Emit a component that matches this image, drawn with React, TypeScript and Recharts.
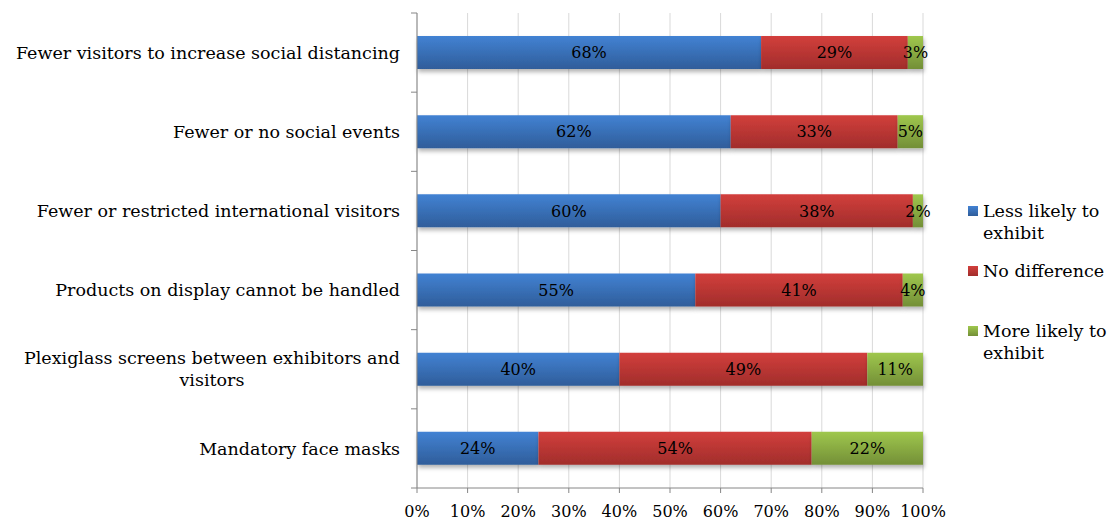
import React from 'react';
import {
  BarChart,
  Bar,
  XAxis,
  YAxis,
  CartesianGrid,
  LabelList,
  Legend,
  Rectangle,
} from 'recharts';

// Survey: how each safety measure changes the likelihood of exhibiting
const categories = [
  'Fewer visitors to increase social distancing',
  'Fewer or no social events',
  'Fewer or restricted international visitors',
  'Products on display cannot be handled',
  'Plexiglass screens between exhibitors and visitors',
  'Mandatory face masks',
];
const lessLikely = [68, 62, 60, 55, 40, 24];
const noDifference = [29, 33, 38, 41, 49, 54];
const moreLikely = [3, 5, 2, 4, 11, 22];
const seriesNames = ['Less likely to exhibit', 'No difference', 'More likely to exhibit'];
const percentTicks = [0, 10, 20, 30, 40, 50, 60, 70, 80, 90, 100];

const FONT = 'DejaVu Serif';
const TEXT_SIZE = 17.5; // category names and legend
const NUM_SIZE = 16; // percentages
const AXIS_COLOR = '#868686';
const TICK_SIZE = 6;
const TICK_MARGIN = 11;

const series = [
  { key: 'less', name: seriesNames[0], top: '#4282d3', bottom: '#2f5d9a', grad: 'gBlue' },
  { key: 'same', name: seriesNames[1], top: '#d23f3c', bottom: '#a12d2b', grad: 'gRed' },
  { key: 'more', name: seriesNames[2], top: '#9fc74d', bottom: '#738f37', grad: 'gGreen' },
];

const data = categories.map((name, i) => ({
  name,
  less: lessLikely[i],
  same: noDifference[i],
  more: moreLikely[i],
}));

let measureCtx: CanvasRenderingContext2D | null = null;
function textWidth(s: string): number {
  if (!measureCtx) {
    const c = document.createElement('canvas');
    measureCtx = c.getContext('2d');
  }
  if (!measureCtx) return s.length * TEXT_SIZE * 0.55;
  measureCtx.font = `${TEXT_SIZE}px "${FONT}"`;
  return measureCtx.measureText(s).width;
}

function wrapLabel(s: string, maxChars = 44): string[] {
  const words = s.split(' ');
  const lines: string[] = [];
  let cur = '';
  for (const w of words) {
    const next = cur ? `${cur} ${w}` : w;
    if (next.length > maxChars && cur) {
      lines.push(cur);
      cur = w;
    } else {
      cur = next;
    }
  }
  if (cur) lines.push(cur);
  return lines;
}

// Category label plus the small tick marks that sit on the band boundaries
const CategoryTick = (props: any) => {
  const { x, y, payload, index, visibleTicksCount } = props;
  const half = payload?.offset ?? 0;
  const axisX = x + TICK_SIZE + TICK_MARGIN;
  const lines = wrapLabel(String(payload.value));
  const lineH = 22;
  const isLast = index === visibleTicksCount - 1;
  let textEl;
  if (lines.length === 1) {
    textEl = (
      <text x={x} y={y} dy="0.35em" textAnchor="end" fill="#000" fontSize={TEXT_SIZE}>
        {lines[0]}
      </text>
    );
  } else {
    const maxW = Math.max(...lines.map(textWidth));
    const cx = x - maxW / 2;
    const startY = y - ((lines.length - 1) * lineH) / 2;
    textEl = (
      <text textAnchor="middle" fill="#000" fontSize={TEXT_SIZE}>
        {lines.map((l, i) => (
          <tspan key={i} x={cx} y={startY + i * lineH} dy="0.35em">
            {l}
          </tspan>
        ))}
      </text>
    );
  }
  return (
    <g>
      <line x1={axisX - TICK_SIZE} x2={axisX} y1={y - half} y2={y - half} stroke={AXIS_COLOR} />
      {isLast && (
        <line x1={axisX - TICK_SIZE} x2={axisX} y1={y + half} y2={y + half} stroke={AXIS_COLOR} />
      )}
      {textEl}
    </g>
  );
};

const LegendContent = () => (
  <div style={{ fontFamily: FONT, fontSize: TEXT_SIZE, color: '#000', lineHeight: '22px' }}>
    {series.map((s) => (
      <div key={s.key} style={{ display: 'flex', alignItems: 'flex-start', height: 44, marginBottom: 16 }}>
        <div
          style={{
            width: 10,
            height: 10,
            marginTop: 6,
            marginRight: 5,
            flex: '0 0 auto',
            background: `linear-gradient(${s.top}, ${s.bottom})`,
          }}
        />
        <div style={{ width: 128 }}>{s.name}</div>
      </div>
    ))}
  </div>
);

const ShadowRect = (grad: string) => (p: any) => (
  <Rectangle {...p} fill={`url(#${grad})`} filter="url(#barShadow)" />
);

export default function App() {
  return (
    <div
      style={{
        position: 'absolute',
        left: 0,
        top: 0,
        width: 1111,
        height: 522,
        background: '#fff',
        fontFamily: FONT,
      }}
    >
      <BarChart
        width={1111}
        height={522}
        data={data}
        layout="vertical"
        margin={{ top: 13, right: 188, bottom: 0, left: 0 }}
        barSize={33}
      >
        <defs>
          {series.map((s) => (
            <linearGradient key={s.grad} id={s.grad} x1="0" y1="0" x2="0" y2="1">
              <stop offset="0%" stopColor={s.top} />
              <stop offset="100%" stopColor={s.bottom} />
            </linearGradient>
          ))}
          <filter id="barShadow" filterUnits="userSpaceOnUse" x="0" y="0" width="1111" height="522">
            <feDropShadow dx="1" dy="3" stdDeviation="2" floodColor="#000" floodOpacity="0.3" />
          </filter>
        </defs>
        <CartesianGrid horizontal={false} stroke="#d9d9d9" />
        <XAxis
          type="number"
          domain={[0, 100]}
          ticks={percentTicks}
          tickFormatter={(v: number) => `${v}%`}
          height={34}
          tickSize={5}
          tickMargin={13}
          axisLine={{ stroke: AXIS_COLOR }}
          tickLine={{ stroke: AXIS_COLOR }}
          tick={{ fill: '#000', fontSize: NUM_SIZE }}
          interval={0}
        />
        <YAxis
          type="category"
          dataKey="name"
          width={417}
          tickSize={TICK_SIZE}
          tickMargin={TICK_MARGIN}
          tickLine={false}
          axisLine={{ stroke: AXIS_COLOR }}
          tick={<CategoryTick />}
          interval={0}
        />
        <Legend
          layout="vertical"
          align="center"
          verticalAlign="middle"
          wrapperStyle={{ left: 968, top: 200, width: 143 }}
          content={<LegendContent />}
        />
        {series.map((s) => (
          <Bar
            key={s.key}
            dataKey={s.key}
            name={s.name}
            stackId="a"
            fill={s.top}
            shape={ShadowRect(s.grad)}
            isAnimationActive={false}
          >
            <LabelList
              dataKey={s.key}
              position="center"
              formatter={(v: any) => `${v}%`}
              fill="#000"
              fontSize={NUM_SIZE}
            />
          </Bar>
        ))}
      </BarChart>
    </div>
  );
}
